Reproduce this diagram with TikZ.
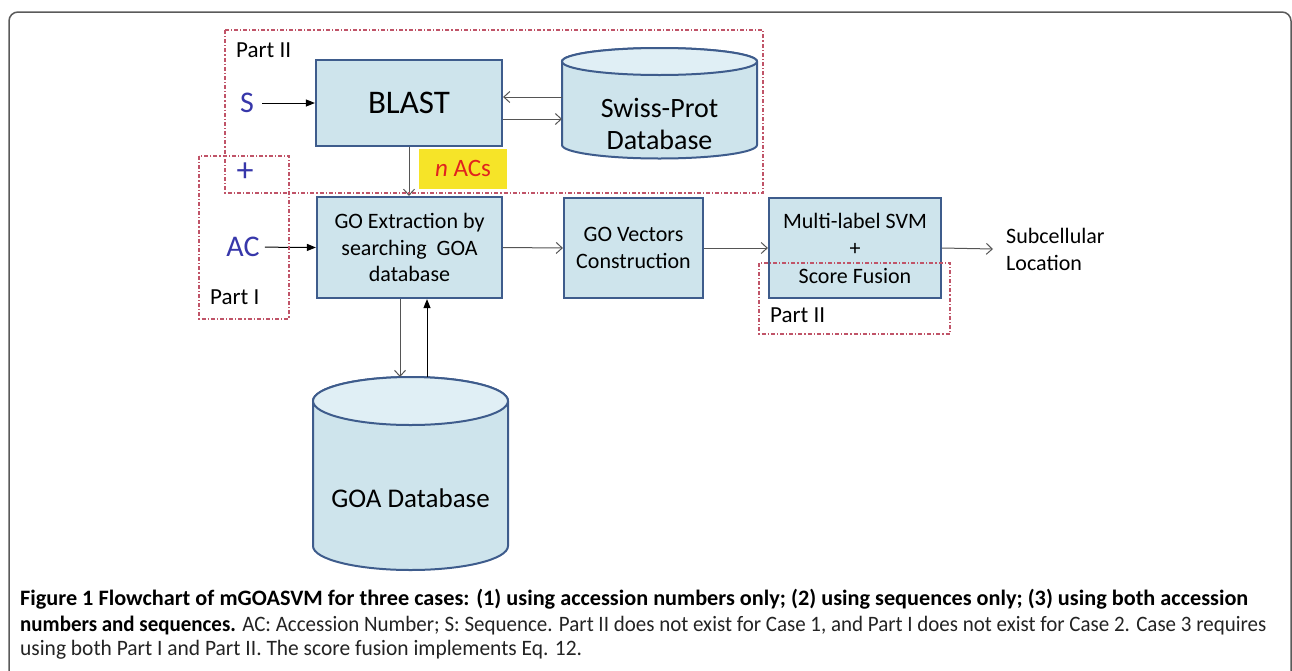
\documentclass[tikz,border=0pt]{standalone}
\usepackage{fontspec}
\setmainfont{Carlito}
\newfontfamily\capfont{Carlito}
\usetikzlibrary{arrows.meta,calc}
\definecolor{boxfill}{RGB}{206,228,236}
\definecolor{boxborder}{RGB}{62,92,140}
\definecolor{cyltop}{RGB}{224,239,245}
\definecolor{dashred}{RGB}{192,84,104}
\definecolor{inblue}{RGB}{55,55,170}
\definecolor{nyellow}{RGB}{246,228,40}
\definecolor{nred}{RGB}{225,35,30}
\definecolor{arrgray}{RGB}{85,85,85}
\definecolor{framegray}{RGB}{90,90,90}
\definecolor{captext}{RGB}{35,35,35}
\tikzset{
  procbox/.style={draw=boxborder, fill=boxfill, line width=2.2pt, align=center, inner sep=2pt},
  cylbody/.style={draw=boxborder, fill=boxfill, line width=2pt},
  cyltopst/.style={draw=boxborder, fill=cyltop, line width=2pt},
  dashbox/.style={draw=dashred, line width=1.1pt, dash pattern=on 4pt off 2pt on 1.2pt off 2pt},
  oarrow/.style={draw=arrgray, line width=1pt, -{Straight Barb[length=6pt,width=11pt,line width=1pt]}},
  farrow/.style={draw=black, line width=1pt, -{Triangle[length=9pt,width=7pt]}},
  intext/.style={text=inblue, font=\fontsize{30}{34}\selectfont, inner sep=1pt},
  parttext/.style={font=\fontsize{23}{26}\selectfont, anchor=west, inner sep=0pt},
  boxtext/.style={font=\fontsize{22}{26.5}\selectfont},
}
\begin{document}
\begin{tikzpicture}[x=1pt,y=-1pt]
\useasboundingbox (0,0) rectangle (1292,670);
% outer frame
\draw[framegray, line width=1.5pt, rounded corners=9pt] (9,700) -- (9,12) -- (1291,12) -- (1291,700);

% Swiss-Prot cylinder
\path[cylbody] (562,61.5) -- (562,145) arc[start angle=180,end angle=360,x radius=97.5pt,y radius=13.5pt] -- (757,61.5) arc[start angle=0,end angle=180,x radius=97.5pt,y radius=13.5pt] -- cycle;
\draw[cyltopst] (659.5,61.5) ellipse [x radius=97.5pt, y radius=13.5pt];
\node[font=\fontsize{28}{32}\selectfont, align=center] (swiss) at (659.5,124) {Swiss-Prot\\Database};
\coordinate (swissW) at (562,108);

% GOA cylinder
\path[cylbody] (313,401) -- (313,546) arc[start angle=180,end angle=360,x radius=97.5pt,y radius=24pt] -- (508,401) arc[start angle=0,end angle=180,x radius=97.5pt,y radius=24pt] -- cycle;
\draw[cyltopst] (410.5,401) ellipse [x radius=97.5pt, y radius=24pt];
\node[font=\fontsize{27}{30}\selectfont] (goa) at (410.5,498) {GOA Database};
\coordinate (goatop) at (410.5,377);

% process boxes
\node[procbox, minimum width=186pt, minimum height=86pt] (blast) at (409,103) {\fontsize{33}{36}\selectfont BLAST};
\node[procbox, boxtext, minimum width=185pt, minimum height=101pt] (goext) at (409.5,247.5) {GO Extraction by\\searching\ \ GOA\\database};
\node[procbox, boxtext, minimum width=139pt, minimum height=100pt] (govec) at (633.5,248) {GO Vectors\\Construction};
\node[procbox, font=\fontsize{22}{27.5}\selectfont, minimum width=172pt, minimum height=100pt] (multi) at (855,248) {Multi-label SVM\\+\\Score Fusion};

% n ACs
\node[fill=nyellow, minimum width=88pt, minimum height=40pt, inner sep=0pt, font=\fontsize{25}{28}\selectfont, text=nred] (nacs) at (463,168.5) {\itshape n\upshape\ ACs};

% inputs
\node[intext] (s) at (247,103) {S};
\node[intext, font=\fontsize{34}{38}\selectfont] (plus) at (245,172) {+};
\node[intext] (ac) at (243,247) {AC};

% labels
\node[parttext] (p2a) at (236,50) {Part II};
\node[parttext] (p1) at (210,297) {Part I};
\node[parttext] (p2b) at (770,315) {Part II};
\node[font=\fontsize{22}{27}\selectfont, align=left, anchor=west, inner sep=0pt] (sub) at (1006,249) {Subcellular\\Location};

% connectors
\draw[farrow, shorten <=7pt] (s) -- (blast.west);
\draw[farrow, shorten <=4pt] (ac) -- (goext.west);
\draw[oarrow] ([yshift=11pt]swissW) -- ([yshift=11pt]swissW -| blast.east);
\draw[oarrow] ([yshift=-11pt]swissW -| blast.east) -- ([yshift=-11pt]swissW);
\draw[oarrow] (blast.south) -- (blast.south |- goext.north);
\draw[oarrow] (goext.east) -- (govec.west);
\draw[oarrow] (govec.east) -- (multi.west);
\draw[oarrow] (multi.east) -- ([xshift=-13pt]sub.west);
\draw[oarrow] ([xshift=-9.5pt]goext.south) -- ([xshift=-10.5pt]goatop);
\draw[farrow] ([xshift=16.5pt]goatop) -- ([xshift=16.5pt]goatop |- goext.south);

% dashed part boxes
\draw[dashbox] (225,30) rectangle (763,193);
\draw[dashbox] (199,156) rectangle (289,319);
\draw[dashbox] (759,263) rectangle (950,334);

% caption
\node[anchor=base west, inner sep=0pt] (cap1) at (20,605) {\resizebox{1228pt}{\height}{\capfont\fontsize{22}{26}\selectfont\bfseries Figure 1 Flowchart of mGOASVM for three cases: (1) using accession numbers only; (2) using sequences only; (3) using both accession}};
\node[anchor=base west, inner sep=0pt] (cap2) at (20,631) {\resizebox{1246pt}{\height}{\capfont\fontsize{22}{26}\selectfont{\bfseries numbers and sequences.} {\color{captext}AC: Accession Number; S: Sequence. Part II does not exist for Case 1, and Part I does not exist for Case 2. Case 3 requires}}};
\node[anchor=base west, inner sep=0pt] (cap3) at (20,655) {\resizebox{562pt}{\height}{\capfont\fontsize{22}{26}\selectfont\color{captext}using both Part I and Part II. The score fusion implements Eq. 12.}};
\end{tikzpicture}
\end{document}
